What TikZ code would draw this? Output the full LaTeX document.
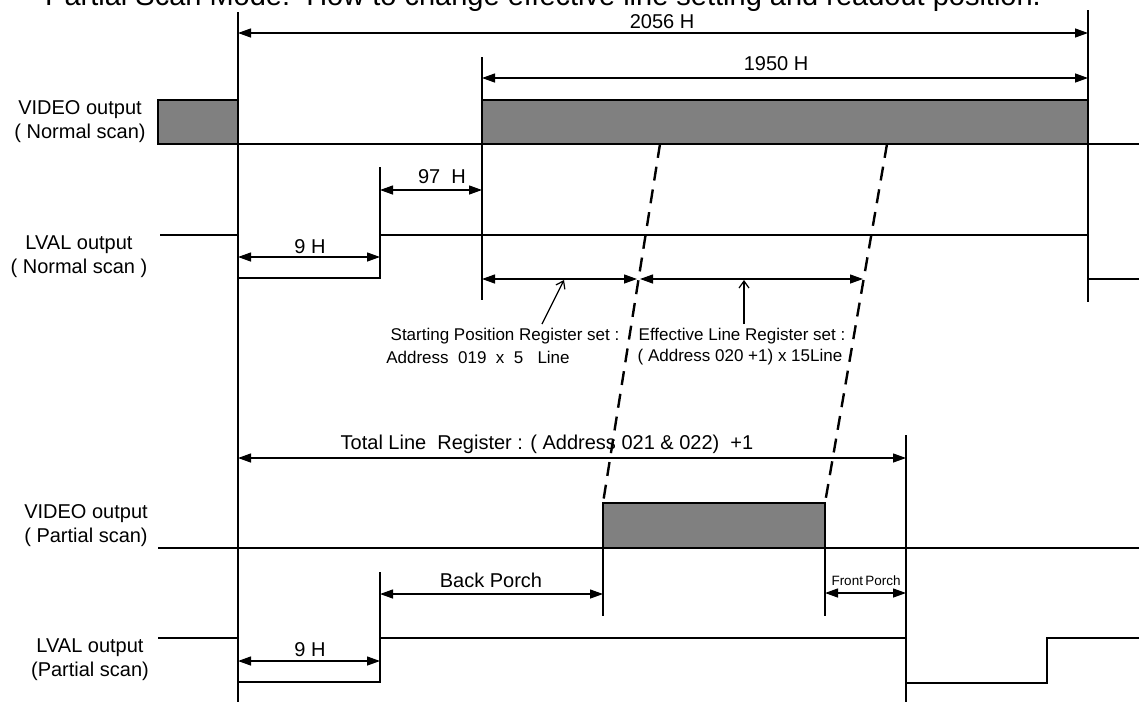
\documentclass[tikz,border=0pt]{standalone}
\usepackage{fontspec}
\setmainfont{Liberation Sans}
\usetikzlibrary{arrows.meta}
\begin{document}
\begin{tikzpicture}[x=1pt,y=-1pt,
  sig/.style={line width=1.5pt},
  vline/.style={line width=1.5pt},
  dim/.style={line width=1.3pt,{Triangle[length=13pt,width=9pt]}-{Triangle[length=13pt,width=9pt]}},
  ptr/.style={line width=1.2pt,-{Straight Barb[length=7pt,width=10pt]}},
  fillbox/.style={draw,line width=1.5pt,fill=black!50},
  dsh/.style={line width=2.4pt,dash pattern=on 14pt off 9pt},
  lab/.style={inner sep=0pt,font=\fontsize{20}{24}\selectfont},
  slab/.style={inner sep=0pt,font=\fontsize{17}{20}\selectfont},
  tlab/.style={inner sep=0pt,font=\fontsize{13.5}{16}\selectfont}]
\useasboundingbox (0,0) rectangle (1139,702);
\fill[white] (0,0) rectangle (1139,702);

% title (cut off at top)
\node[anchor=base west,inner sep=0pt,font=\fontsize{29}{34}\selectfont] (title) at (45,5) {Partial Scan Mode:\ \ How to change effective line setting and readout position.};

% key coordinates
\coordinate (v0t) at (238,12);   \coordinate (v0b) at (238,702);
\coordinate (vrt) at (1088,10);  \coordinate (vrb) at (1088,302);
\coordinate (v1t) at (482,57);   \coordinate (v1b) at (482,300);
\coordinate (v97t) at (380,167);
\coordinate (vtt) at (906,435);  \coordinate (vtb) at (906,702);

% vertical reference lines
\draw[vline] (v0t) -- (v0b);
\draw[vline] (vrt) -- (vrb);
\draw[vline] (v1t) -- (v1b);
\draw[vline] (vtt) -- (vtb);

% 2056 H / 1950 H
\coordinate (a2056l) at (238,33); \coordinate (a2056r) at (1088,33);
\draw[dim] (a2056l) -- (a2056r);
\node[lab] (l2056) at (662,22) {2056 H};
\coordinate (a1950l) at (482,78); \coordinate (a1950r) at (1088,78);
\draw[dim] (a1950l) -- (a1950r);
\node[lab] (l1950) at (776,64) {1950 H};

% VIDEO output normal scan
\node[lab,align=center] (tvn) at (80,122) {VIDEO output\\( Normal scan)};
\draw[fillbox] (158,100) rectangle (238,144);
\draw[fillbox] (482,100) rectangle (1088,144);
\coordinate (vn0) at (238,144); \coordinate (vn1) at (1139,144);
\draw[sig] (vn0) -- (vn1);

% 97 H
\coordinate (v97b) at (380,235);
\draw[vline] (v97t) -- (v97b);
\coordinate (a97l) at (380,190); \coordinate (a97r) at (482,190);
\draw[dim] (a97l) -- (a97r);
\node[lab] (l97) at (442,177) {97\ \ H};

% LVAL normal scan
\node[lab,align=center] (tln) at (79,257) {LVAL output\\( Normal scan )};
\coordinate (ln0) at (160,235);
\draw[sig] (ln0) -- (238,235) -- (238,278) -- (380,278) -- (380,235) -- (1088,235) -- (1088,279) -- (1139,279);
\coordinate (a9l) at (238,257); \coordinate (a9r) at (380,257);
\draw[dim] (a9l) -- (a9r);
\node[lab] (l9) at (310,247) {9 H};

% register arrows
\coordinate (ra0) at (482,279); \coordinate (ra1) at (637,279);
\coordinate (ra2) at (640,279); \coordinate (ra3) at (863,279);
\draw[dim] (ra0) -- (ra1);
\draw[dim] (ra2) -- (ra3);
\coordinate (p1t) at (542,324); \coordinate (p1h) at (564,280);
\draw[ptr] (p1t) -- (p1h);
\coordinate (p2t) at (744,324); \coordinate (p2h) at (744,280);
\draw[ptr] (p2t) -- (p2h);
\node[slab] (s1) at (505,336) {Starting Position Register set :};
\node[slab] (s2) at (478,357) {Address\ \ 019\ \ x\ \ 5\ \ \ Line};
\node[slab] (e1) at (742,336) {Effective Line Register set :};
\node[slab] (e2) at (740,357) {( Address 020 +1) x 15Line};

% dashed projection lines
\coordinate (d1t) at (660,144); \coordinate (d1b) at (603,503);
\coordinate (d2t) at (887,144); \coordinate (d2b) at (825,503);
\draw[dsh] (d1t) -- (d1b);
\draw[dsh] (d2t) -- (d2b);

% total line register
\coordinate (atl) at (238,458); \coordinate (atr) at (906,458);
\draw[dim] (atl) -- (atr);
\node[lab] (ltot) at (547,444) {Total Line\ \ Register : ( Address 021 \& 022)\ \ +1};

% VIDEO output partial scan
\node[lab,align=center] (tvp) at (86,526) {VIDEO output\\( Partial scan)};
\coordinate (vp0) at (158,548); \coordinate (vp1) at (1139,548);
\draw[fillbox] (603,503) rectangle (825,548);
\draw[sig] (vp0) -- (vp1);
\coordinate (vb1) at (603,616); \coordinate (vb2) at (825,616);
\draw[vline] (603,548) -- (vb1);
\draw[vline] (825,548) -- (vb2);

% back porch / front porch
\coordinate (v2t) at (380,572);
\draw[vline] (v2t) -- (380,638);
\coordinate (bpl) at (380,594); \coordinate (bpr) at (603,594);
\draw[dim] (bpl) -- (bpr);
\node[lab] (lbp) at (491,580) {Back Porch};
\coordinate (fpl) at (825,593); \coordinate (fpr) at (906,593);
\draw[dim] (fpl) -- (fpr);
\node[tlab] (lfp) at (866,581) {Front\,Porch};

% LVAL partial scan
\node[lab,align=center] (tlp) at (90,660) {LVAL output\\(Partial scan)};
\coordinate (lp0) at (158,638);
\draw[sig] (lp0) -- (238,638) -- (238,682) -- (380,682) -- (380,638) -- (906,638) -- (906,683) -- (1047,683) -- (1047,638) -- (1139,638);
\coordinate (a9pl) at (238,661); \coordinate (a9pr) at (380,661);
\draw[dim] (a9pl) -- (a9pr);
\node[lab] (l9p) at (310,650) {9 H};
\end{tikzpicture}
\end{document}
